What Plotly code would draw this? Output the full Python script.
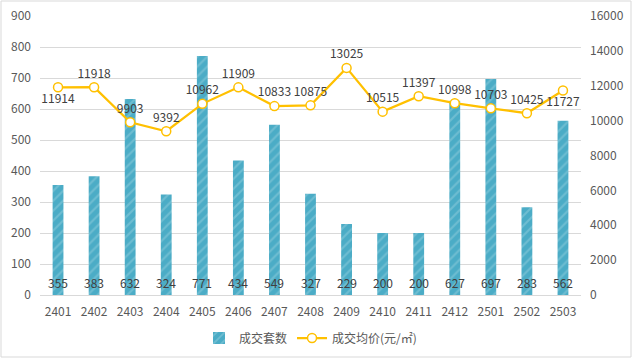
import plotly.graph_objects as go

months = ["2401","2402","2403","2404","2405","2406","2407","2408","2409","2410","2411","2412","2501","2502","2503"]
units = [355,383,632,324,771,434,549,327,229,200,200,627,697,283,562]
price = [11914,11918,9903,9392,10962,11909,10833,10875,13025,10515,11397,10998,10703,10425,11727]
price_pos = ["bottom center","top center"] + ["top center"]*12 + ["bottom center"]

FONT = "Noto Sans CJK SC, Microsoft YaHei, sans-serif"
fig = go.Figure()
fig.add_trace(go.Bar(
    x=months, y=units, name="成交套数", width=0.3,
    marker=dict(color="#4BACC6", line=dict(width=0),
                pattern=dict(shape="/", fgcolor="#92CDDC", bgcolor="#4BACC6", size=7, solidity=0.3)),
    yaxis="y"))
fig.add_trace(go.Scatter(
    x=months, y=price, name="成交均价(元/㎡)", mode="lines+markers+text",
    line=dict(color="#FFC000", width=2.25),
    marker=dict(size=9, color="white", line=dict(color="#FFC000", width=1.5)),
    text=[str(v) for v in price], textposition=price_pos,
    textfont=dict(size=12, color="#404040", family=FONT),
    yaxis="y2"))
for i, u in enumerate(units):
    fig.add_annotation(x=i, y=0, xref="x", yref="y", text=str(u), showarrow=False,
                       yshift=13, font=dict(size=12, color="#404040", family=FONT))

L, R, T, B = 40, 52, 16, 65
pw = 633 - L - R
ph = 360 - T - B
fig.add_shape(type="rect", xref="paper", yref="paper", layer="below",
              x0=-(L-1)/pw, x1=(pw+R-2)/pw, y0=-(B-3)/ph, y1=(ph+T-1)/ph,
              line=dict(color="#D9D9D9", width=1), fillcolor="rgba(0,0,0,0)")

fig.update_layout(
    width=633, height=360,
    margin=dict(l=L, r=R, t=T, b=B, autoexpand=False),
    paper_bgcolor="white", plot_bgcolor="white",
    font=dict(family=FONT, size=12, color="#595959"),
    xaxis=dict(type="category", showline=True, linecolor="#D9D9D9", ticks="",
               automargin=False, ticklabelstandoff=6,
               tickfont=dict(size=12, color="#595959"), range=[-0.5, 14.5]),
    yaxis=dict(range=[0, 900], dtick=100, showgrid=True, gridcolor="#D9D9D9",
               automargin=False, zeroline=False,
               tickfont=dict(size=12, color="#595959"), ticklabelstandoff=8),
    yaxis2=dict(range=[0, 16000], dtick=2000, overlaying="y", side="right",
                automargin=False, showgrid=False, zeroline=False,
                tickfont=dict(size=12, color="#595959"),
                tickformat="d", ticklabelstandoff=8),
    legend=dict(orientation="h", x=0.5, xanchor="center", yref="container",
                y=22/360, yanchor="middle",
                bgcolor="rgba(0,0,0,0)", font=dict(size=12, color="#595959")),
    showlegend=True,
)
fig.write_html("out.html", config={"displayModeBar": False},
               post_script="document.body.style.margin='0';document.body.style.overflow='hidden';")
